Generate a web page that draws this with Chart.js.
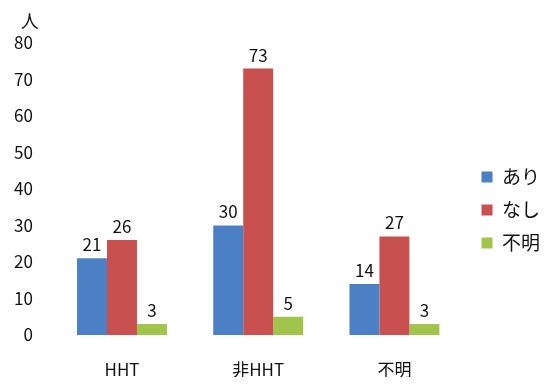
<!DOCTYPE html>
<html lang="ja">
<head>
<meta charset="utf-8">
<script src="https://cdn.jsdelivr.net/npm/chart.js@4"></script>
<style>
  html, body { margin: 0; padding: 0; background: #fff; }
  #wrap { width: 550px; height: 385px; }
</style>
</head>
<body>
<div id="wrap"><canvas id="hhtChart" width="550" height="385"></canvas></div>
<script>
// Categories and counts per answer
const categories = ['HHT', '非HHT', '不明'];
const ari = [21, 30, 14];
const nashi = [26, 73, 27];
const fumei = [3, 5, 3];
const seriesNames = ['あり', 'なし', '不明'];
const seriesColors = ['#4c80c4', '#c8504f', '#a0c44c'];
const yTicks = [0, 10, 20, 30, 40, 50, 60, 70, 80];

const FONT = '"Noto Sans CJK JP", "Noto Sans", sans-serif';

// Value labels above each bar
const valueLabels = {
  id: 'valueLabels',
  afterDatasetsDraw(chart) {
    const ctx = chart.ctx;
    ctx.save();
    ctx.fillStyle = '#111';
    ctx.font = '17px ' + FONT;
    ctx.textAlign = 'center';
    ctx.textBaseline = 'bottom';
    chart.data.datasets.forEach((ds, i) => {
      chart.getDatasetMeta(i).data.forEach((bar, j) => {
        ctx.fillText(ds.data[j], bar.x, bar.y - 5);
      });
    });
    ctx.restore();
  }
};

// Unit mark over the y axis
const unitLabel = {
  id: 'unitLabel',
  afterDraw(chart) {
    const ctx = chart.ctx;
    ctx.save();
    ctx.fillStyle = '#111';
    ctx.font = '18px ' + FONT;
    ctx.textAlign = 'center';
    ctx.textBaseline = 'middle';
    ctx.fillText('人', chart.chartArea.left - 24, 21);
    ctx.restore();
  }
};

new Chart(document.getElementById('hhtChart'), {
  type: 'bar',
  data: {
    labels: categories,
    datasets: [ari, nashi, fumei].map((d, i) => ({
      label: seriesNames[i],
      data: d,
      backgroundColor: seriesColors[i],
      barPercentage: 1.0,
      categoryPercentage: 0.66
    }))
  },
  options: {
    responsive: false,
    animation: false,
    devicePixelRatio: 1,
    layout: { padding: { top: 43, right: 0, left: -7, bottom: 8 } },
    scales: {
      x: {
        grid: { display: false, drawTicks: false },
        border: { display: false },
        ticks: { color: '#111', font: { family: FONT, size: 17 }, padding: 24 },
        afterFit: s => { s.height = 42; }
      },
      y: {
        min: 0,
        max: 80,
        afterBuildTicks: axis => { axis.ticks = yTicks.map(v => ({ value: v })); },
        grid: { display: false, drawTicks: false },
        border: { display: false },
        ticks: { color: '#111', font: { family: FONT, size: 17 }, padding: 21 }
      },
      // empty gap between the bars and the legend
      y2: {
        position: 'right',
        grid: { display: false, drawTicks: false },
        border: { display: false },
        ticks: { display: false },
        afterFit: s => { s.width = 5; }
      }
    },
    plugins: {
      legend: {
        position: 'right',
        labels: {
          color: '#111',
          font: { family: FONT, size: 19 },
          boxWidth: 11,
          boxHeight: 11,
          padding: 14
        }
      },
      tooltip: { enabled: false }
    }
  },
  plugins: [valueLabels, unitLabel]
});
</script>
</body>
</html>
